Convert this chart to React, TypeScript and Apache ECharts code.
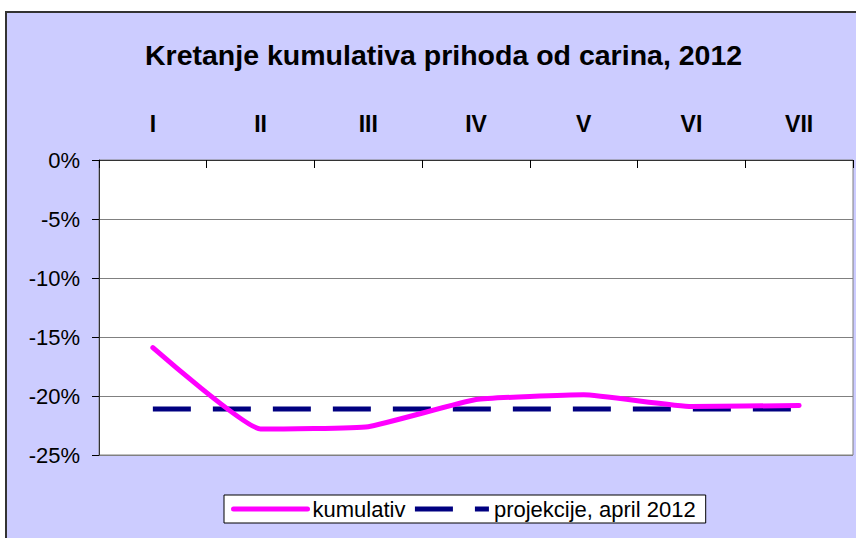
import React, { useEffect, useRef } from "react";
import * as echarts from "echarts";

const categories = ["I", "II", "III", "IV", "V", "VI", "VII"];
const kumulativ = [-15.9, -22.8, -22.6, -20.3, -19.9, -20.9, -20.8];
const projekcije = [-21.1, -21.1, -21.1, -21.1, -21.1, -21.1, -21.1];
const yTicks = { min: -25, max: 0, interval: 5 };
const titleText = "Kretanje kumulativa prihoda od carina, 2012";
const seriesNames = ["kumulativ", "projekcije, april 2012"];

export default function App() {
  const ref = useRef<HTMLDivElement>(null);
  useEffect(() => {
    document.body.style.margin = "0";
    const chart = echarts.init(ref.current!, null, { renderer: "svg" });
    const font = "Liberation Sans, Arial, sans-serif";
    chart.setOption({
      animation: false,
      backgroundColor: "#ffffff",
      textStyle: { fontFamily: font },
      graphic: [
        {
          type: "rect",
          z: -100,
          silent: true,
          shape: { x: 6, y: 12, width: 900, height: 600 },
          style: { fill: "#CCCCFF", stroke: "#333333", lineWidth: 2 },
        },
      ],
      title: {
        text: titleText,
        left: 140,
        top: 35,
        textStyle: { fontFamily: font, fontWeight: "bold", fontSize: 28.5, color: "#000" },
      },
      legend: {
        left: 224,
        top: 495,
        padding: [3, 10, 3, 7],
        itemGap: 7,
        itemWidth: 74,
        itemHeight: 14,
        backgroundColor: "#ffffff",
        borderColor: "#000000",
        borderWidth: 1,
        borderRadius: 0,
        itemStyle: { opacity: 0 },
        lineStyle: { width: 5 },
        textStyle: { fontFamily: font, fontSize: 22, color: "#000" },
        data: seriesNames,
      },
      grid: { left: 99, top: 160, right: 3, bottom: 83, show: true, backgroundColor: "#ffffff", borderColor: "#808080", borderWidth: 1 },
      xAxis: {
        type: "category",
        position: "top",
        data: categories,
        boundaryGap: true,
        axisLine: { show: true, lineStyle: { color: "#333333", width: 1 } },
        axisTick: { show: true, inside: true, length: 8, lineStyle: { color: "#000" } },
        axisLabel: { fontFamily: font, fontWeight: "bold", fontSize: 23, color: "#000", margin: 25 },
        splitLine: { show: false },
      },
      yAxis: {
        type: "value",
        min: yTicks.min,
        max: yTicks.max,
        interval: yTicks.interval,
        axisLine: { show: true, lineStyle: { color: "#333333", width: 1 } },
        axisTick: { show: true, inside: false, length: 7, lineStyle: { color: "#000" } },
        axisLabel: { fontFamily: font, fontSize: 22, color: "#000", margin: 19, formatter: (v: number) => `${v}%` },
        splitLine: { show: true, lineStyle: { color: "#808080", width: 1 } },
      },
      series: [
        {
          name: seriesNames[0],
          type: "line",
          data: kumulativ,
          smooth: 0.12,
          symbol: "none",
          lineStyle: { color: "#FF00FF", width: 5, cap: "round" },
          itemStyle: { color: "#FF00FF" },
          z: 3,
        },
        {
          name: seriesNames[1],
          type: "line",
          data: projekcije,
          symbol: "none",
          lineStyle: { color: "#000080", width: 5, type: [38, 22], cap: "butt" },
          itemStyle: { color: "#000080" },
          z: 2,
        },
      ],
    });
    return () => chart.dispose();
  }, []);
  return <div ref={ref} style={{ width: 856, height: 538 }} />;
}
